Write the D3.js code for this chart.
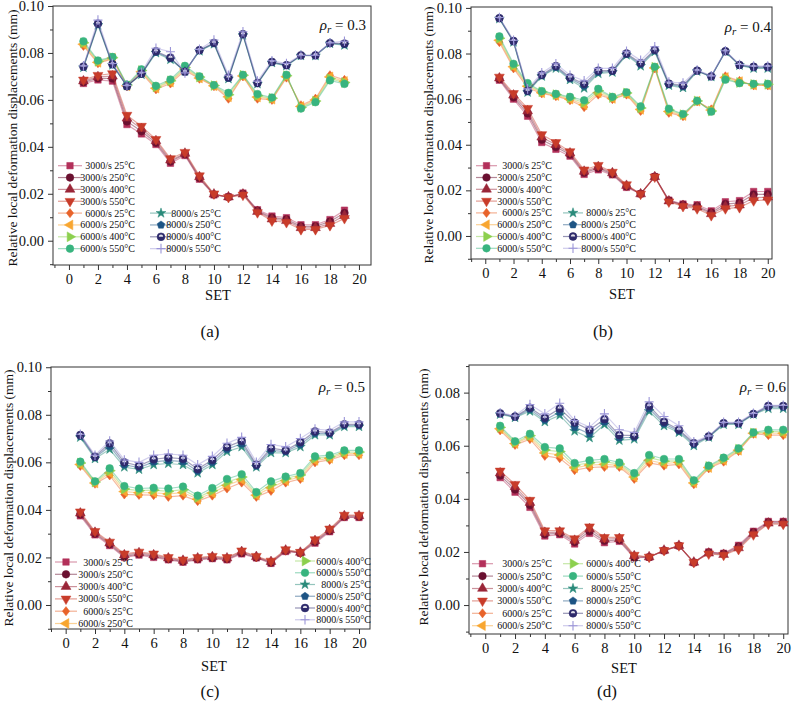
<!DOCTYPE html>
<html><head><meta charset="utf-8">
<script src="https://cdn.jsdelivr.net/npm/d3@7"></script>
<style>
body{margin:0;background:#fff}
svg{display:block}
text{font-family:"Liberation Serif","Times New Roman","DejaVu Serif",serif;fill:#111}
</style>
</head><body><svg id="chart" width="800" height="716"></svg>
<script>
// ---------- categories ----------
const SET19 = [1,2,3,4,5,6,7,8,9,10,11,12,13,14,15,16,17,18,19];
const SET20 = [1,2,3,4,5,6,7,8,9,10,11,12,13,14,15,16,17,18,19,20];
const seriesLabels = ["3000/s  25°C","3000/s 250°C","3000/s 400°C","3000/s 550°C","6000/s 25°C","6000/s 250°C","6000/s 400°C","6000/s 550°C","8000/s 25°C","8000/s 250°C","8000/s 400°C","8000/s 550°C"];
const xTickLabels = [0,2,4,6,8,10,12,14,16,18,20];
const yTickLabelsFull = [0,0.02,0.04,0.06,0.08,0.10];
const yTickLabelsD = [0,0.02,0.04,0.06,0.08];
const rhoLabels = ["0.3","0.4","0.5","0.6"];
const captions = ["(a)","(b)","(c)","(d)"];

// ---------- panel (a) rho_r = 0.3 ----------
const a3000_25  = [0.0670,0.0685,0.0680,0.0495,0.0455,0.0410,0.0330,0.0363,0.0262,0.0195,0.0187,0.0203,0.0132,0.0105,0.0098,0.0068,0.0068,0.0090,0.0130];
const a3000_250 = [0.0675,0.0692,0.0691,0.0508,0.0466,0.0417,0.0337,0.0368,0.0267,0.0197,0.0186,0.0200,0.0128,0.0098,0.0091,0.0061,0.0061,0.0082,0.0118];
const a3000_400 = [0.0680,0.0698,0.0701,0.0522,0.0477,0.0425,0.0343,0.0372,0.0272,0.0198,0.0186,0.0198,0.0124,0.0092,0.0085,0.0055,0.0055,0.0073,0.0107];
const a3000_550 = [0.0685,0.0705,0.0712,0.0535,0.0488,0.0432,0.0350,0.0377,0.0277,0.0200,0.0185,0.0195,0.0120,0.0085,0.0078,0.0048,0.0048,0.0065,0.0095];
const a6000_25  = [0.0830,0.0756,0.0775,0.0658,0.0715,0.0645,0.0670,0.0725,0.0690,0.0658,0.0605,0.0700,0.0605,0.0600,0.0695,0.0577,0.0605,0.0705,0.0685];
const a6000_250 = [0.0837,0.0760,0.0778,0.0660,0.0720,0.0650,0.0676,0.0732,0.0693,0.0660,0.0613,0.0702,0.0612,0.0603,0.0699,0.0572,0.0600,0.0698,0.0679];
const a6000_400 = [0.0843,0.0764,0.0780,0.0663,0.0725,0.0655,0.0681,0.0738,0.0697,0.0661,0.0622,0.0705,0.0618,0.0607,0.0703,0.0568,0.0595,0.0690,0.0674];
const a6000_550 = [0.0850,0.0768,0.0783,0.0665,0.0730,0.0660,0.0687,0.0745,0.0700,0.0663,0.0630,0.0707,0.0625,0.0610,0.0707,0.0563,0.0590,0.0683,0.0668];
const a8000_25  = [0.0738,0.0918,0.0748,0.0660,0.0708,0.0800,0.0772,0.0722,0.0808,0.0838,0.0690,0.0875,0.0668,0.0758,0.0745,0.0788,0.0788,0.0840,0.0833];
const a8000_250 = [0.0740,0.0922,0.0750,0.0660,0.0710,0.0803,0.0776,0.0720,0.0810,0.0840,0.0693,0.0878,0.0670,0.0760,0.0747,0.0789,0.0789,0.0841,0.0836];
const a8000_400 = [0.0742,0.0925,0.0752,0.0658,0.0712,0.0807,0.0780,0.0720,0.0812,0.0843,0.0695,0.0880,0.0672,0.0762,0.0748,0.0790,0.0790,0.0842,0.0840];
const a8000_550 = [0.0745,0.0940,0.0755,0.0662,0.0718,0.0820,0.0805,0.0715,0.0815,0.0855,0.0705,0.0890,0.0680,0.0767,0.0755,0.0790,0.0790,0.0843,0.0850];

// ---------- panel (b) rho_r = 0.4 ----------
const b3000_25  = [0.0683,0.0600,0.0525,0.0410,0.0380,0.0350,0.0270,0.0290,0.0268,0.0213,0.0185,0.0260,0.0157,0.0140,0.0137,0.0110,0.0150,0.0155,0.0195,0.0195];
const b3000_250 = [0.0688,0.0608,0.0537,0.0422,0.0390,0.0357,0.0277,0.0297,0.0272,0.0217,0.0185,0.0260,0.0155,0.0137,0.0131,0.0103,0.0140,0.0145,0.0182,0.0183];
const b3000_400 = [0.0692,0.0617,0.0548,0.0433,0.0400,0.0363,0.0283,0.0303,0.0276,0.0221,0.0184,0.0259,0.0153,0.0133,0.0126,0.0097,0.0130,0.0135,0.0168,0.0170];
const b3000_550 = [0.0697,0.0625,0.0560,0.0445,0.0410,0.0370,0.0290,0.0310,0.0280,0.0225,0.0184,0.0259,0.0150,0.0130,0.0120,0.0090,0.0120,0.0125,0.0155,0.0158];
const b6000_25  = [0.0850,0.0735,0.0650,0.0625,0.0613,0.0595,0.0565,0.0620,0.0600,0.0620,0.0548,0.0735,0.0540,0.0525,0.0590,0.0555,0.0700,0.0680,0.0660,0.0660];
const b6000_250 = [0.0858,0.0742,0.0657,0.0628,0.0616,0.0600,0.0575,0.0628,0.0603,0.0623,0.0555,0.0737,0.0546,0.0528,0.0591,0.0552,0.0695,0.0677,0.0662,0.0662];
const b6000_400 = [0.0867,0.0748,0.0663,0.0632,0.0620,0.0605,0.0585,0.0637,0.0607,0.0627,0.0561,0.0740,0.0552,0.0532,0.0592,0.0548,0.0690,0.0673,0.0665,0.0665];
const b6000_550 = [0.0875,0.0755,0.0670,0.0635,0.0623,0.0610,0.0595,0.0645,0.0610,0.0630,0.0568,0.0742,0.0558,0.0535,0.0593,0.0545,0.0685,0.0670,0.0667,0.0667];
const b8000_25  = [0.0952,0.0850,0.0630,0.0700,0.0735,0.0685,0.0648,0.0712,0.0718,0.0793,0.0745,0.0808,0.0660,0.0650,0.0722,0.0698,0.0808,0.0748,0.0735,0.0735];
const b8000_250 = [0.0954,0.0852,0.0633,0.0703,0.0740,0.0690,0.0658,0.0718,0.0722,0.0797,0.0752,0.0812,0.0664,0.0655,0.0724,0.0699,0.0809,0.0749,0.0738,0.0738];
const b8000_400 = [0.0955,0.0855,0.0637,0.0707,0.0745,0.0695,0.0667,0.0725,0.0725,0.0800,0.0758,0.0816,0.0668,0.0660,0.0725,0.0700,0.0810,0.0750,0.0742,0.0742];
const b8000_550 = [0.0958,0.0858,0.0645,0.0715,0.0755,0.0705,0.0680,0.0735,0.0735,0.0810,0.0770,0.0830,0.0675,0.0670,0.0728,0.0702,0.0812,0.0752,0.0745,0.0745];

// ---------- panel (c) rho_r = 0.5 ----------
const c3000_25  = [0.0375,0.0295,0.0250,0.0200,0.0210,0.0200,0.0190,0.0180,0.0190,0.0195,0.0190,0.0215,0.0198,0.0175,0.0225,0.0218,0.0260,0.0308,0.0368,0.0368];
const c3000_250 = [0.0381,0.0300,0.0255,0.0205,0.0214,0.0205,0.0193,0.0183,0.0193,0.0198,0.0193,0.0219,0.0200,0.0178,0.0228,0.0219,0.0265,0.0312,0.0371,0.0371];
const c3000_400 = [0.0386,0.0305,0.0260,0.0210,0.0219,0.0210,0.0197,0.0187,0.0197,0.0202,0.0197,0.0224,0.0203,0.0182,0.0230,0.0221,0.0270,0.0316,0.0375,0.0375];
const c3000_550 = [0.0392,0.0310,0.0265,0.0215,0.0223,0.0215,0.0200,0.0190,0.0200,0.0205,0.0200,0.0228,0.0205,0.0185,0.0233,0.0222,0.0275,0.0320,0.0378,0.0378];
const c6000_25  = [0.0585,0.0510,0.0545,0.0465,0.0463,0.0462,0.0455,0.0460,0.0437,0.0460,0.0490,0.0515,0.0455,0.0480,0.0515,0.0530,0.0600,0.0610,0.0630,0.0630];
const c6000_250 = [0.0591,0.0513,0.0555,0.0477,0.0472,0.0472,0.0467,0.0473,0.0445,0.0471,0.0503,0.0527,0.0462,0.0493,0.0523,0.0538,0.0608,0.0617,0.0637,0.0637];
const c6000_400 = [0.0597,0.0517,0.0565,0.0488,0.0481,0.0483,0.0478,0.0485,0.0452,0.0481,0.0517,0.0538,0.0468,0.0507,0.0532,0.0547,0.0617,0.0623,0.0643,0.0643];
const c6000_550 = [0.0603,0.0520,0.0575,0.0500,0.0490,0.0493,0.0490,0.0498,0.0460,0.0492,0.0530,0.0550,0.0475,0.0520,0.0540,0.0555,0.0625,0.0630,0.0650,0.0650];
const c8000_25  = [0.0705,0.0615,0.0655,0.0580,0.0570,0.0590,0.0595,0.0590,0.0555,0.0590,0.0645,0.0665,0.0580,0.0640,0.0640,0.0665,0.0715,0.0715,0.0750,0.0750];
const c8000_250 = [0.0710,0.0620,0.0668,0.0590,0.0578,0.0602,0.0608,0.0603,0.0563,0.0600,0.0655,0.0678,0.0585,0.0650,0.0645,0.0675,0.0722,0.0720,0.0755,0.0755];
const c8000_400 = [0.0715,0.0624,0.0680,0.0600,0.0585,0.0613,0.0620,0.0615,0.0572,0.0610,0.0665,0.0690,0.0590,0.0660,0.0650,0.0685,0.0730,0.0725,0.0760,0.0760];
const c8000_550 = [0.0718,0.0630,0.0690,0.0610,0.0600,0.0630,0.0635,0.0630,0.0590,0.0625,0.0680,0.0705,0.0600,0.0675,0.0665,0.0700,0.0740,0.0735,0.0770,0.0770];

// ---------- panel (d) rho_r = 0.6 ----------
const d3000_25  = [0.0480,0.0425,0.0368,0.0260,0.0265,0.0230,0.0270,0.0235,0.0240,0.0178,0.0180,0.0205,0.0223,0.0160,0.0200,0.0195,0.0225,0.0278,0.0315,0.0315];
const d3000_250 = [0.0488,0.0435,0.0377,0.0267,0.0270,0.0237,0.0278,0.0242,0.0245,0.0181,0.0180,0.0205,0.0223,0.0160,0.0198,0.0193,0.0220,0.0274,0.0312,0.0312];
const d3000_400 = [0.0497,0.0445,0.0386,0.0273,0.0275,0.0243,0.0287,0.0248,0.0250,0.0185,0.0181,0.0206,0.0224,0.0161,0.0195,0.0190,0.0215,0.0269,0.0308,0.0308];
const d3000_550 = [0.0505,0.0455,0.0395,0.0280,0.0280,0.0250,0.0295,0.0255,0.0255,0.0188,0.0181,0.0206,0.0224,0.0161,0.0193,0.0188,0.0210,0.0265,0.0305,0.0305];
const d6000_25  = [0.0658,0.0603,0.0625,0.0562,0.0553,0.0508,0.0518,0.0520,0.0520,0.0475,0.0535,0.0525,0.0530,0.0455,0.0515,0.0540,0.0580,0.0645,0.0640,0.0640];
const d6000_250 = [0.0664,0.0608,0.0632,0.0573,0.0565,0.0517,0.0527,0.0530,0.0526,0.0482,0.0545,0.0533,0.0537,0.0460,0.0518,0.0545,0.0583,0.0647,0.0647,0.0647];
const d6000_400 = [0.0669,0.0612,0.0638,0.0584,0.0578,0.0526,0.0536,0.0540,0.0531,0.0490,0.0555,0.0542,0.0543,0.0465,0.0522,0.0550,0.0587,0.0648,0.0653,0.0653];
const d6000_550 = [0.0675,0.0617,0.0645,0.0595,0.0590,0.0535,0.0545,0.0550,0.0537,0.0497,0.0565,0.0550,0.0550,0.0470,0.0525,0.0555,0.0590,0.0650,0.0660,0.0660];
const d8000_25  = [0.0718,0.0706,0.0730,0.0690,0.0715,0.0655,0.0630,0.0680,0.0620,0.0625,0.0730,0.0675,0.0650,0.0600,0.0632,0.0680,0.0680,0.0718,0.0740,0.0740];
const d8000_250 = [0.0720,0.0708,0.0737,0.0697,0.0727,0.0670,0.0645,0.0690,0.0630,0.0632,0.0740,0.0683,0.0655,0.0605,0.0634,0.0683,0.0683,0.0719,0.0745,0.0745];
const d8000_400 = [0.0722,0.0710,0.0743,0.0705,0.0740,0.0687,0.0660,0.0700,0.0640,0.0638,0.0750,0.0690,0.0660,0.0610,0.0635,0.0685,0.0685,0.0720,0.0750,0.0750];
const d8000_550 = [0.0724,0.0713,0.0755,0.0720,0.0760,0.0695,0.0670,0.0720,0.0660,0.0650,0.0765,0.0710,0.0675,0.0615,0.0637,0.0688,0.0688,0.0722,0.0752,0.0752];

// ---------- styles ----------
const seriesColors = ["#b3305a","#6a1030","#9a2638","#c83c2a","#e8632a","#f8a630","#8cd04e","#38b47f","#2a8b7b","#1d5484","#2e2a6b","#9b95d8"];
const seriesShapes = ["square","circle","triUp","triDown","diamond","triLeft","triRight","circle","star","pentagon","halfCircle","plus"];

const panels = [
  {set:SET19, data:[a3000_25,a3000_250,a3000_400,a3000_550,a6000_25,a6000_250,a6000_400,a6000_550,a8000_25,a8000_250,a8000_400,a8000_550],
   box:{l:53,r:371,t:6,b:265}, xd:[-1.10,20.83], yd:[-0.01035,0.10], yt:yTickLabelsFull,
   ylab:{x:17,y:138}, setLab:{x:218,y:300}, cap:{x:210,y:337}, rho:{x:366,y:30},
   leg:{cols:[{x0:58,x1:82,te:135,items:[0,1,2,3,4,5,6,7],rows:[0,1,2,3,4,5,6,7]},{x0:150,x1:172,te:221,items:[8,9,10,11],rows:[4,5,6,7]}], y0:165.7, dy:11.85}},
  {set:SET20, data:[b3000_25,b3000_250,b3000_400,b3000_550,b6000_25,b6000_250,b6000_400,b6000_550,b8000_25,b8000_250,b8000_400,b8000_550],
   box:{l:471,r:772,t:7,b:259}, xd:[-1.01,20.30], yd:[-0.0101,0.1004], yt:yTickLabelsFull,
   ylab:{x:433,y:135}, setLab:{x:622,y:299}, cap:{x:603,y:337}, rho:{x:771,y:32},
   leg:{cols:[{x0:476,x1:497,te:552,items:[0,1,2,3,4,5,6,7],rows:[0,1,2,3,4,5,6,7]},{x0:563,x1:583,te:636,items:[8,9,10,11],rows:[4,5,6,7]}], y0:165.7, dy:11.8}},
  {set:SET20, data:[c3000_25,c3000_250,c3000_400,c3000_550,c6000_25,c6000_250,c6000_400,c6000_550,c8000_25,c8000_250,c8000_400,c8000_550],
   box:{l:51,r:370,t:367,b:629}, xd:[-1.00,20.75], yd:[-0.0101,0.1001], yt:yTickLabelsFull,
   ylab:{x:13,y:498}, setLab:{x:214,y:671}, cap:{x:210,y:697}, rho:{x:365,y:392},
   leg:{cols:[{x0:55,x1:77,te:133,items:[0,1,2,3,4,5],rows:[0,1,2,3,4,5],y0:562,dy:12.3},{x0:295,x1:315,te:371,items:[6,7,8,9,10,11],rows:[0,1,2,3,4,5],y0:561,dy:11.75}]}},
  {set:SET20, data:[d3000_25,d3000_250,d3000_400,d3000_550,d6000_25,d6000_250,d6000_400,d6000_550,d8000_25,d8000_250,d8000_400,d8000_550],
   box:{l:469,r:788,t:365,b:634}, xd:[-1.09,20.32], yd:[-0.0109,0.0904], yt:yTickLabelsD,
   ylab:{x:428,y:497}, setLab:{x:624,y:673}, cap:{x:607,y:697}, rho:{x:786,y:392},
   leg:{cols:[{x0:472,x1:493,te:552,items:[0,1,2,3,4,5],rows:[0,1,2,3,4,5]},{x0:563,x1:583,te:641,items:[6,7,8,9,10,11],rows:[0,1,2,3,4,5]}], y0:563.7, dy:12.4}}
];

const svg = d3.select("#chart");

function pentagonPath(r){
  const pts = d3.range(5).map(i=>{const a=-Math.PI/2+i*2*Math.PI/5;return [r*Math.cos(a),r*Math.sin(a)];});
  return "M"+pts.map(p=>p[0].toFixed(2)+","+p[1].toFixed(2)).join("L")+"Z";
}
function drawMarker(g, shape, color, cx, cy){
  const t = `translate(${cx},${cy})`;
  let p, rot = 0;
  switch(shape){
    case "square": p=d3.symbol(d3.symbolSquare,42)(); break;
    case "circle": p=d3.symbol(d3.symbolCircle,46)(); break;
    case "triUp": p=d3.symbol(d3.symbolTriangle,42)(); break;
    case "triDown": p=d3.symbol(d3.symbolTriangle,42)(); rot=180; break;
    case "triLeft": p=d3.symbol(d3.symbolTriangle,42)(); rot=-90; break;
    case "triRight": p=d3.symbol(d3.symbolTriangle,42)(); rot=90; break;
    case "diamond": p="M0,-4.6L3.6,0L0,4.6L-3.6,0Z"; break;
    case "star": p=d3.symbol(d3.symbolStar,30)(); break;
    case "pentagon": p=pentagonPath(4.0); break;
    case "halfCircle":
      g.append("circle").attr("cx",cx).attr("cy",cy).attr("r",3.9).attr("fill",color).attr("stroke",color).attr("stroke-width",0.6);
      g.append("path").attr("d","M-2.2,0A2.2,2.2 0 0 1 2.2,0Z").attr("transform",t).attr("fill","#fff").attr("opacity",0.85);
      return;
    case "plus":
      g.append("path").attr("d","M-4.5,0H4.5M0,-4.8V4.8").attr("transform",t).attr("fill","none").attr("stroke",color).attr("stroke-width",1.1);
      return;
  }
  g.append("path").attr("d",p).attr("transform",t+(rot?` rotate(${rot})`:"")).attr("fill",color).attr("stroke",color).attr("stroke-width",0.5);
}

panels.forEach((P, pi)=>{
  const x = d3.scaleLinear().domain(P.xd).range([P.box.l, P.box.r]);
  const y = d3.scaleLinear().domain(P.yd).range([P.box.b, P.box.t]);
  const g = svg.append("g");

  const xMinor = d3.range(-1,21,1).filter(v=>v%2!==0 && v>=P.xd[0] && v<=P.xd[1]);
  const yMinor = d3.range(-1,11,1).map(v=>v/100).filter(v=>Math.round(v*100)%2!==0 && v>=P.yd[0]-1e-9 && v<=P.yd[1]);

  const gx = g.append("g").attr("transform",`translate(0,${P.box.b})`)
    .call(d3.axisBottom(x).tickValues(xTickLabels).tickSize(5).tickPadding(4).tickFormat(d3.format("d")));
  const gxm = g.append("g").attr("transform",`translate(0,${P.box.b})`)
    .call(d3.axisBottom(x).tickValues(xMinor).tickSize(3).tickFormat(""));
  const gy = g.append("g").attr("transform",`translate(${P.box.l},0)`)
    .call(d3.axisLeft(y).tickValues(P.yt).tickSize(5).tickPadding(4).tickFormat(d3.format(".2f")));
  const gym = g.append("g").attr("transform",`translate(${P.box.l},0)`)
    .call(d3.axisLeft(y).tickValues(yMinor).tickSize(3).tickFormat(""));
  [gx,gxm,gy,gym].forEach(a=>{
    a.select(".domain").remove();
    a.selectAll(".tick line").attr("stroke","#333").attr("stroke-width",1);
    a.selectAll(".tick text").attr("font-size",14.5).attr("fill","#111");
  });

  g.append("rect").attr("x",P.box.l).attr("y",P.box.t).attr("width",P.box.r-P.box.l).attr("height",P.box.b-P.box.t)
    .attr("fill","none").attr("stroke","#333").attr("stroke-width",1);

  const line = d3.line().x((d,i)=>x(P.set[i])).y(d=>y(d));
  P.data.forEach((vals, si)=>{
    const col = seriesColors[si];
    const sg = g.append("g");
    sg.append("path").attr("d",line(vals)).attr("fill","none").attr("stroke",col).attr("stroke-opacity",0.45).attr("stroke-width",1.2);
    vals.forEach((v,i)=>drawMarker(sg, seriesShapes[si], col, x(P.set[i]), y(v)));
  });

  P.leg.cols.forEach(c=>{
    const y0 = c.y0!==undefined ? c.y0 : P.leg.y0;
    const dy = c.dy!==undefined ? c.dy : P.leg.dy;
    c.items.forEach((si,k)=>{
      const yy = y0 + c.rows[k]*dy;
      const col = seriesColors[si];
      const lg = g.append("g");
      lg.append("line").attr("x1",c.x0).attr("x2",c.x1).attr("y1",yy).attr("y2",yy).attr("stroke",col).attr("stroke-opacity",0.5).attr("stroke-width",1.2);
      drawMarker(lg, seriesShapes[si], col, (c.x0+c.x1)/2, yy);
      lg.append("text").attr("x",c.te).attr("y",yy).attr("dy","0.35em").attr("text-anchor","end")
        .attr("font-size",10).text(seriesLabels[si]);
    });
  });

  g.append("text").attr("transform",`translate(${P.ylab.x},${P.ylab.y}) rotate(-90)`).attr("text-anchor","middle")
    .attr("font-size",13.5).text("Relative local deformation displacements (mm)");
  g.append("text").attr("x",P.setLab.x).attr("y",P.setLab.y).attr("text-anchor","middle").attr("font-size",14.5).text("SET");
  g.append("text").attr("x",P.cap.x).attr("y",P.cap.y).attr("text-anchor","middle").attr("font-size",17).text(captions[pi]);
  const rt = g.append("text").attr("x",P.rho.x).attr("y",P.rho.y).attr("text-anchor","end").attr("font-size",15);
  rt.append("tspan").attr("font-style","italic").text("ρ");
  rt.append("tspan").attr("font-style","italic").attr("font-size",11).attr("dy",3).text("r");
  rt.append("tspan").attr("dy",-3).text(" = " + rhoLabels[pi]);
});
</script></body></html>
